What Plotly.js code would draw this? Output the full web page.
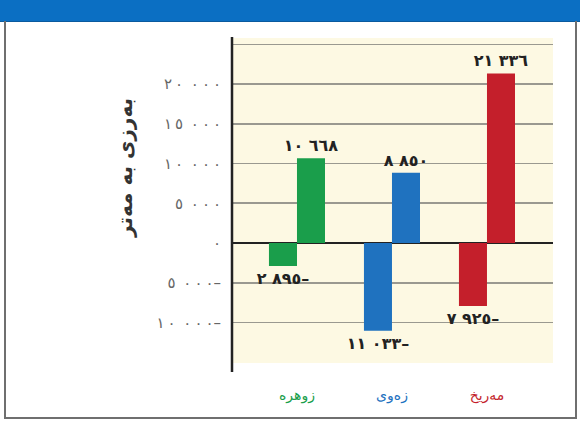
<!DOCTYPE html>
<html>
<head>
<meta charset="utf-8">
<script src="https://cdn.plot.ly/plotly-3.0.1.min.js"></script>
<style>
  html, body { margin: 0; padding: 0; background: #ffffff; }
  #wrap { position: relative; width: 580px; height: 423px; overflow: hidden; background: #ffffff; }
  #band { position: absolute; left: 0; top: 0; width: 580px; height: 21px; background: #0b6fc3; border-bottom: 1px solid #0a5a9e; }
  #frame { position: absolute; left: 4px; top: 21px; width: 569px; height: 396px; border: 2px solid #6f6f6f; border-top: none; }
  #chart { position: absolute; left: 0; top: 0; width: 580px; height: 423px; }
</style>
</head>
<body>
<div id="wrap">
  <div id="band"></div>
  <div id="frame"></div>
  <div id="chart"></div>
</div>
<script>
// Data
var categories = ['زوهره', 'زەوی', 'مەریخ'];
var categoryColors = ['#1a9e4b', '#1f72bf', '#c41f2b'];
var lowest = [-2895, -11033, -7925];
var highest = [10668, 8850, 21336];
var tickValues = [-15000, -10000, -5000, 0, 5000, 10000, 15000, 20000, 25000];
var tickShown = [false, true, true, true, true, true, true, true, false];
var yTitle = 'بەرزی بە مەتر';

// Format numbers with Arabic-Indic digits, spaced groups, trailing minus.
// LRM marks keep the digit order left-to-right whatever spacing is used.
function fmt(v, innerSep, groupSep) {
  var digits = '٠١٢٣٤٥٦٧٨٩';
  var L = '\u200E';
  var s = String(Math.abs(v));
  var out = '';
  for (var i = 0; i < s.length; i++) {
    if (i > 0) {
      var sep = ((s.length - i) % 3 === 0) ? groupSep : innerSep;
      if (sep) out += L + sep + L;
    }
    out += digits[+s[i]];
  }
  return v < 0 ? out + L + '\u2013' : out;
}
function fmtTick(v) { return fmt(v, '\u2009', '\u00A0\u2009'); }
function fmtLabel(v) { return fmt(v, '', '\u00A0'); }

var tickText = tickValues.map(function (v, i) { return tickShown[i] ? fmtTick(v) : ''; });
var catText = categories.map(function (c, i) {
  return '<span style="color:' + categoryColors[i] + '">' + c + '</span>';
});

var labelFont = { family: 'DejaVu Sans', size: 16, color: '#222', weight: 'bold' };

var traces = [
  {
    type: 'bar', x: categories, y: lowest,
    marker: { color: categoryColors },
    text: lowest.map(fmtLabel), textposition: 'outside', textfont: labelFont,
    constraintext: 'none', textangle: 0,
    cliponaxis: false, hoverinfo: 'none', showlegend: false
  },
  {
    type: 'bar', x: categories, y: highest,
    marker: { color: categoryColors },
    text: highest.map(fmtLabel), textposition: 'outside', textfont: labelFont,
    constraintext: 'none', textangle: 0,
    cliponaxis: false, hoverinfo: 'none', showlegend: false
  }
];

var layout = {
  width: 580, height: 423,
  margin: { l: 232, r: 27, t: 38, b: 60 },
  paper_bgcolor: 'rgba(0,0,0,0)',
  plot_bgcolor: '#fdf9e3',
  barmode: 'group', bargap: 0.41, bargroupgap: 0,
  font: { family: 'DejaVu Sans', color: '#555' },
  xaxis: {
    type: 'category', range: [-0.684, 2.695],
    tickvals: categories, ticktext: catText,
    tickfont: { family: 'DejaVu Sans', size: 14 },
    ticks: '', ticklabelstandoff: 22,
    showgrid: false, zeroline: false, showline: false, fixedrange: true
  },
  yaxis: {
    range: [-15100, 25800],
    tickmode: 'array', tickvals: tickValues, ticktext: tickText,
    tickfont: { family: 'DejaVu Sans', size: 15, color: '#666' },
    ticks: '', ticklabelstandoff: 10,
    showgrid: true, gridcolor: '#9a9990', gridwidth: 1.6,
    zeroline: true, zerolinecolor: '#222', zerolinewidth: 2,
    showline: false, fixedrange: true
  },
  shapes: [
    { type: 'line', xref: 'paper', yref: 'paper', x0: 0, x1: 0, y0: -0.028, y1: 1.003,
      line: { color: '#222', width: 2.5 } }
  ],
  annotations: [
    { text: yTitle, textangle: -90, xref: 'paper', yref: 'paper',
      x: (125 - 232) / 321, y: (363 - 168) / 325, xanchor: 'center', yanchor: 'middle',
      showarrow: false, font: { family: 'DejaVu Sans', size: 20, color: '#333', weight: 'bold' } }
  ]
};

Plotly.newPlot('chart', traces, layout, { staticPlot: true, displayModeBar: false });
</script>
</body>
</html>
